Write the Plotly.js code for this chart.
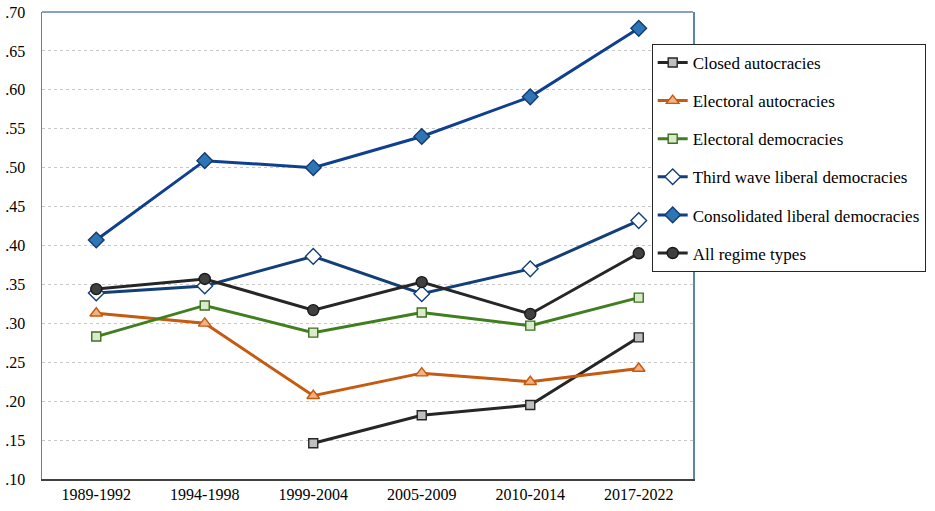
<!DOCTYPE html>
<html>
<head>
<meta charset="utf-8">
<script src="https://cdn.plot.ly/plotly-3.0.1.min.js"></script>
<style>
  html, body { margin: 0; padding: 0; background: #fff; }
  #chart { width: 935px; height: 511px; }
</style>
</head>
<body>
<div id="chart"></div>
<script>
// periods on the x axis
const periods = ['1989-1992', '1994-1998', '1999-2004', '2005-2009', '2010-2014', '2017-2022'];

// values (null = no point)
const closedAutocracies = [null, null, 0.146, 0.182, 0.195, 0.282];
const electoralAutocracies = [0.313, 0.300, 0.207, 0.236, 0.225, 0.242];
const electoralDemocracies = [0.283, 0.323, 0.288, 0.314, 0.297, 0.333];
const thirdWaveLiberal = [0.339, 0.348, 0.386, 0.338, 0.370, 0.432];
const consolidatedLiberal = [0.407, 0.509, 0.500, 0.540, 0.591, 0.679];
const allRegimes = [0.344, 0.357, 0.317, 0.353, 0.312, 0.390];

const yTickVals = [0.10, 0.15, 0.20, 0.25, 0.30, 0.35, 0.40, 0.45, 0.50, 0.55, 0.60, 0.65, 0.70];
const yTickText = ['.10', '.15', '.20', '.25', '.30', '.35', '.40', '.45', '.50', '.55', '.60', '.65', '.70'];

const frameColor = '#5f84ab';
const serif = 'Liberation Serif, Times New Roman, DejaVu Serif, serif';

function series(name, values, lineColor, symbol, fill, edge, size) {
    return {
        type: 'scatter', mode: 'lines+markers',
        name: name, legendgroup: name,
        x: periods, y: values,
        line: { color: lineColor, width: 3 },
        marker: { symbol: symbol, size: size, color: fill, line: { color: edge, width: 1.4 } }
    };
}

const traces = [
    series('Closed autocracies', closedAutocracies, '#262626', 'square', '#bfbfbf', '#262626', 9),
    series('Electoral autocracies', electoralAutocracies, '#c55a11', 'triangle-up', '#f4b183', '#c55a11', 11),
    series('Electoral democracies', electoralDemocracies, '#3f7f1f', 'square', '#d9ecc9', '#3f6f22', 9),
    series('Third wave liberal democracies', thirdWaveLiberal, '#123f78', 'diamond', '#ffffff', '#123f78', 12),
    series('Consolidated liberal democracies', consolidatedLiberal, '#0f3f8f', 'diamond', '#2e75b6', '#163a6a', 12),
    series('All regime types', allRegimes, '#262626', 'circle', '#404040', '#1a1a1a', 11)
];

const layout = {
    width: 935, height: 511,
    paper_bgcolor: '#ffffff', plot_bgcolor: '#ffffff',
    font: { family: serif, size: 16, color: '#000' },
    margin: { l: 42, r: 242, t: 12, b: 32, autoexpand: false },
    showlegend: true,
    legend: {
        xref: 'container', yref: 'container',
        x: 0.697, xanchor: 'left', y: 0.914, yanchor: 'top',
        bordercolor: '#262626', borderwidth: 1, bgcolor: '#ffffff',
        font: { family: serif, size: 17, color: '#000' }, tracegroupgap: 13, itemwidth: 30
    },
    xaxis: {
        type: 'category', range: [-0.5, 5.5],
        showgrid: false, zeroline: false,
        showline: true, linecolor: '#404040', linewidth: 1.5,
        ticks: '', tickfont: { family: serif, size: 16, color: '#000' }
    },
    yaxis: {
        range: [0.10, 0.70], tickvals: yTickVals, ticktext: yTickText,
        showgrid: true, gridcolor: '#c8c8c8', griddash: 'dot', gridwidth: 1,
        zeroline: false, showline: true, linecolor: frameColor, linewidth: 1.5, mirror: true,
        ticks: '', ticklabelstandoff: 12, tickfont: { family: serif, size: 16, color: '#000' }
    },
    shapes: [
        { type: 'line', xref: 'paper', yref: 'paper', x0: 0, x1: 1, y0: 1, y1: 1,
          line: { color: frameColor, width: 1.5 } }
    ]
};

Plotly.newPlot('chart', traces, layout, { displayModeBar: false, staticPlot: true });
</script>
</body>
</html>
